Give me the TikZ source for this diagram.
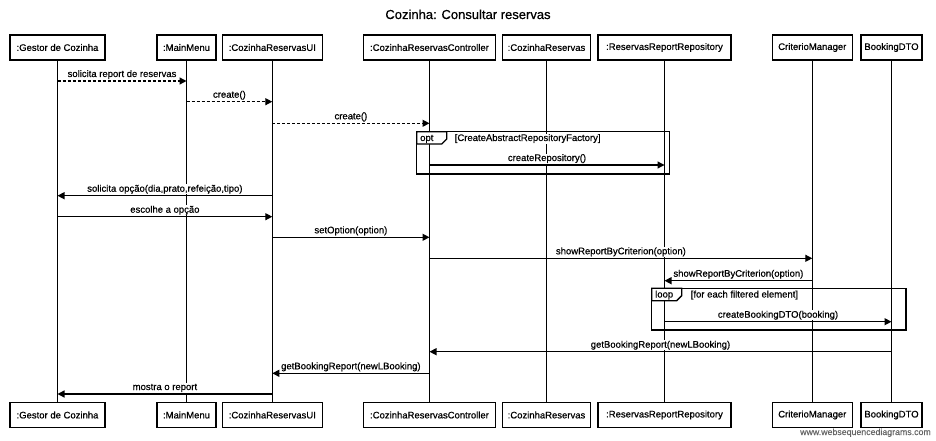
\documentclass[tikz,border=0pt]{standalone}
\usepackage{fontspec}
\setmainfont{Liberation Sans}[FakeBold=0.6]
\usetikzlibrary{arrows.meta}
\newcommand\seqmsg[5][msg]{\draw[#1] (#2 |- 0,#3) -- (#4 |- 0,#3) node[lbl]{#5};}
\begin{document}
\begin{tikzpicture}[x=1pt,y=-1pt,
  txt/.style={font=\fontsize{9.5}{11}\selectfont},
  actor/.style={draw,line width=1.3pt,minimum height=25pt,inner sep=0pt,fill=white,txt},
  life/.style={line width=1.3pt},
  msg/.style={line width=1.3pt,-{Triangle[length=7pt,width=7pt]}},
  reply/.style={msg,dash pattern=on 3pt off 2pt},
  lbl/.style={midway,anchor=base,yshift=4pt,fill=white,inner sep=0.6pt,txt},
  frame/.style={draw,line width=1.3pt},
  guard/.style={anchor=base west,fill=white,inner sep=0.6pt,txt}]
\useasboundingbox (0,0) rectangle (936,441);
\node[anchor=base,font=\fontsize{13}{15}\selectfont] (title) at (468,19) {Cozinha: Consultar reservas};
% top actors
\node[actor,minimum width=95pt]  (t1) at (57.5,47.5)  {:Gestor de Cozinha};
\node[actor,minimum width=59pt]  (t2) at (186.5,47.5) {:MainMenu};
\node[actor,minimum width=100pt] (t3) at (272.3,47.5) {:CozinhaReservasUI};
\node[actor,minimum width=132pt] (t4) at (429.5,47.5) {:CozinhaReservasController};
\node[actor,minimum width=88pt]  (t5) at (546.5,47.5) {:CozinhaReservas};
\node[actor,minimum width=133pt] (t6) at (664.5,47.5) {:ReservasReportRepository};
\node[actor,minimum width=80pt]  (t7) at (812.3,47.5) {CriterioManager};
\node[actor,minimum width=61pt]  (t8) at (891.5,47.5) {BookingDTO};
% bottom actors
\node[actor,minimum width=95pt]  (b1) at (57.5,415)  {:Gestor de Cozinha};
\node[actor,minimum width=59pt]  (b2) at (186.5,415) {:MainMenu};
\node[actor,minimum width=100pt] (b3) at (272.3,415) {:CozinhaReservasUI};
\node[actor,minimum width=132pt] (b4) at (429.5,415) {:CozinhaReservasController};
\node[actor,minimum width=88pt]  (b5) at (546.5,415) {:CozinhaReservas};
\node[actor,minimum width=133pt] (b6) at (664.5,415) {:ReservasReportRepository};
\node[actor,minimum width=80pt]  (b7) at (812.3,415) {CriterioManager};
\node[actor,minimum width=61pt]  (b8) at (891.5,415) {BookingDTO};
% lifelines
\foreach \i in {1,...,8} {\draw[life] (t\i.south) -- (b\i.north);}
% opt frame
\draw[frame] (416.7,131.7) rectangle (669.3,174);
\draw[frame,fill=white] (416.7,131.7) -- (446.7,131.7) -- (446.7,139) -- (441.7,144) -- (416.7,144) -- cycle;
\node[anchor=base west,inner sep=0pt,txt] (optl) at (420,141) {opt};
\node[guard] (optg) at (454,141) {[CreateAbstractRepositoryFactory]};
% loop frame
\draw[frame] (651.7,288.3) rectangle (906,330);
\draw[frame,fill=white] (651.7,288.3) -- (681.7,288.3) -- (681.7,295.7) -- (676.7,300.7) -- (651.7,300.7) -- cycle;
\node[anchor=base west,inner sep=0pt,txt] (loopl) at (655,297.5) {loop};
\node[guard] (loopg) at (690,297.5) {[for each filtered element]};
% messages
\seqmsg[reply]{t1}{81}{t2}{solicita report de reservas}
\seqmsg[reply]{t2}{101.7}{t3}{create()}
\seqmsg[reply]{t3}{123.3}{t4}{create()}
\seqmsg{t4}{165}{t6}{createRepository()}
\seqmsg{t3}{195.7}{t1}{solicita opção(dia,prato,refeição,tipo)}
\seqmsg{t1}{216.7}{t3}{escolhe a opção}
\seqmsg{t3}{237.3}{t4}{setOption(option)}
\seqmsg{t4}{258.3}{t7}{showReportByCriterion(option)}
\seqmsg{t7}{280.7}{t6}{showReportByCriterion(option)}
\seqmsg{t6}{321.7}{t8}{createBookingDTO(booking)}
\seqmsg{t8}{351.7}{t4}{getBookingReport(newLBooking)}
\seqmsg{t4}{373.3}{t3}{getBookingReport(newLBooking)}
\seqmsg{t3}{394}{t1}{mostra o report}
% watermark
\node[anchor=base east,inner sep=0pt,text=black!60,font=\fontsize{8.8}{10}\selectfont] (wm) at (931,435) {www.websequencediagrams.com};
\end{tikzpicture}
\end{document}
